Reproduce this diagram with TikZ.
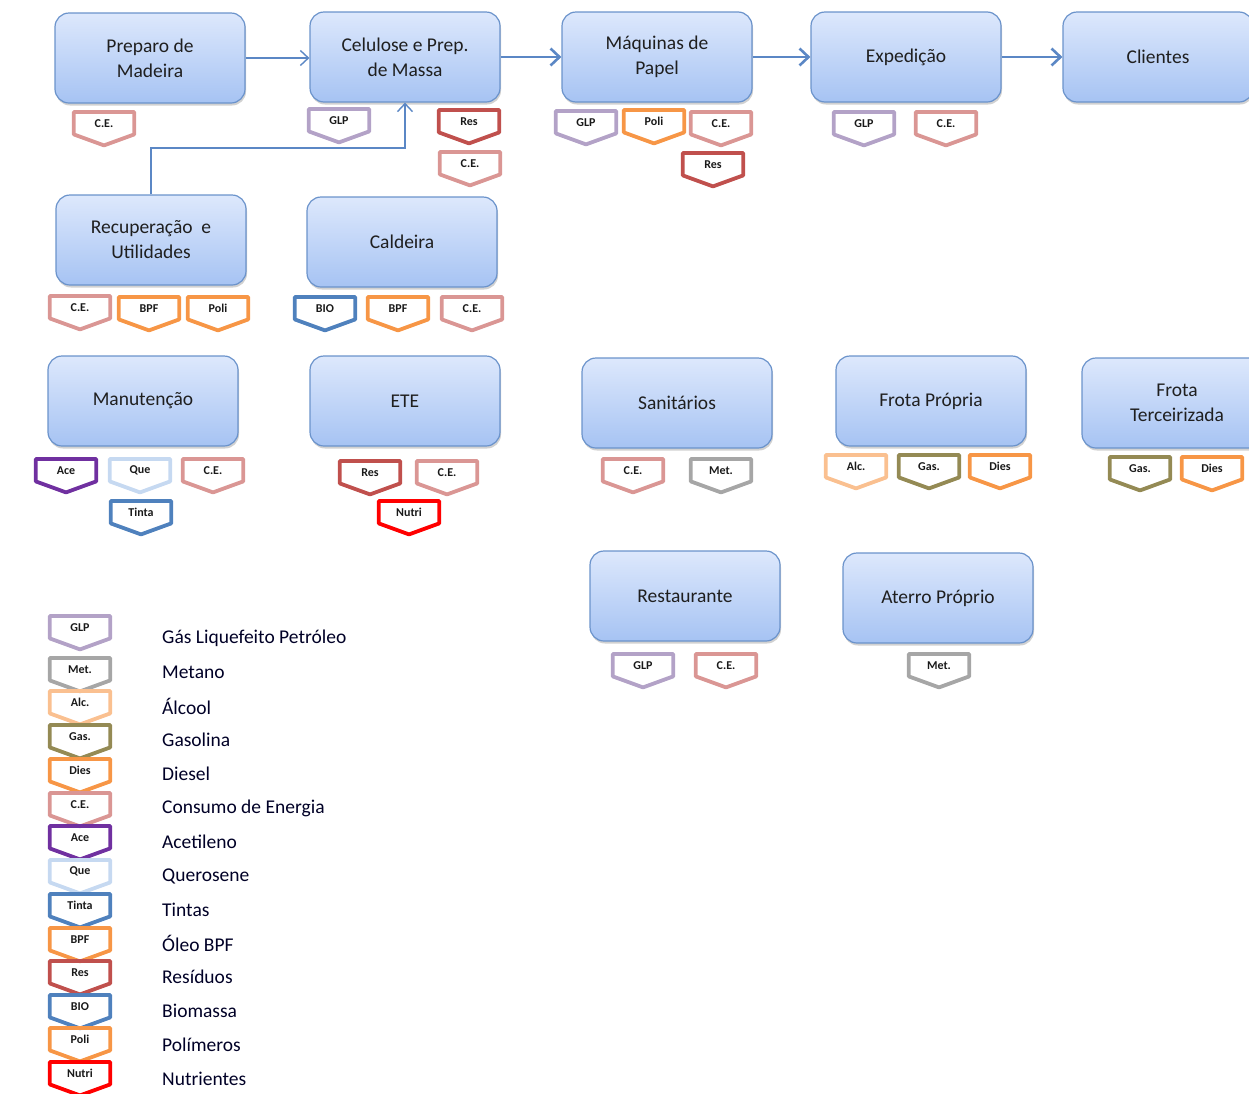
\documentclass[tikz,border=0pt]{standalone}
\usepackage{fontspec}
\setmainfont{Carlito}
\usetikzlibrary{arrows.meta,shadows}
\definecolor{cGLP}{HTML}{B3A2C7}
\definecolor{cCE}{HTML}{DA9694}
\definecolor{cRes}{HTML}{C0504D}
\definecolor{cOr}{HTML}{F79646}
\definecolor{cMet}{HTML}{A6A6A6}
\definecolor{cAlc}{HTML}{FAC090}
\definecolor{cGas}{HTML}{948A54}
\definecolor{cAce}{HTML}{7030A0}
\definecolor{cQue}{HTML}{C6D9F1}
\definecolor{cBlue}{HTML}{4F81BD}
\definecolor{cNut}{HTML}{FF0000}
\definecolor{boxtop}{HTML}{DDE8FC}
\definecolor{boxbot}{HTML}{A6C3F3}
\definecolor{boxline}{HTML}{6B93CB}
\definecolor{arrowc}{HTML}{5B87C5}
\begin{document}
\begin{tikzpicture}[x=1pt,y=-1pt,
  box/.style={rectangle, rounded corners=14pt, minimum width=190pt, minimum height=90pt,
    top color=boxtop, bottom color=boxbot, draw=boxline, line width=1.2pt, align=center,
    font=\fontsize{19.5}{25}\selectfont, text=black!88,
    drop shadow={shadow xshift=1pt, shadow yshift=-2.5pt, opacity=0.3, fill=black!60}},
  tagbox/.style={rectangle, minimum width=60pt, minimum height=22pt, inner sep=0pt,
    anchor=north, yshift=-2pt, font=\bfseries\fontsize{12}{13}\selectfont, text=black!90,
    append after command={\pgfextra{\draw[draw=#1, line width=3.8pt, line join=round]
      (\tikzlastnode.north west) -- (\tikzlastnode.north east) -- (\tikzlastnode.south east)
      -- ([yshift=-11pt]\tikzlastnode.south) -- (\tikzlastnode.south west) -- cycle;}}},
  legtext/.style={anchor=west, inner sep=0pt, font=\fontsize{19.5}{22}\selectfont, text=black!85!blue},
  thinarr/.style={draw=arrowc, line width=1.4pt, -{Straight Barb[length=8pt,width=15pt,line width=1.4pt]}},
  thickarr/.style={draw=arrowc, line width=2.6pt, -{Straight Barb[length=9pt,width=17pt,line width=2.6pt]}}
]
\useasboundingbox (0,0) rectangle (1249,1093);
\clip (0,0) rectangle (1249,1093);
% boxes
\node[box] (prep) at (150,58) {Preparo de\\Madeira};
\node[box] (cel) at (405,57) {Celulose e Prep.\\de Massa};
\node[box] (maq) at (657,57) {Máquinas de\\Papel};
\node[box] (exp) at (906,57) {Expedição};
\node[box] (cli) at (1158,57) {Clientes};
\node[box] (rec) at (151,240) {Recuperação \ e\\Utilidades};
\node[box] (cal) at (402,242) {Caldeira};
\node[box] (man) at (143,401) {Manutenção};
\node[box] (ete) at (405,401) {ETE};
\node[box] (san) at (677,403) {Sanitários};
\node[box] (fp) at (931,401) {Frota Própria};
\node[box] (ft) at (1177,403) {Frota\\Terceirizada};
\node[box] (rest) at (685,596) {Restaurante};
\node[box] (ate) at (938,598) {Aterro Próprio};
% connectors
\draw[thinarr] (prep.east) -- (prep.east -| cel.west);
\draw[thickarr] (cel.east) -- (maq.west);
\draw[thickarr] (maq.east) -- (exp.west);
\draw[thickarr] (exp.east) -- (cli.west);
\coordinate (j) at (151,148);
\draw[thinarr] (rec.north) -- (j) -| (cel.south);
% tags
\node[tagbox=cCE] (t1) at (104,110) {C.E.};
\node[tagbox=cGLP] (t2) at (339,107) {GLP};
\node[tagbox=cRes] (t3) at (469,108) {Res};
\node[tagbox=cCE] (t4) at (470,150) {C.E.};
\node[tagbox=cGLP] (t5) at (586,109) {GLP};
\node[tagbox=cOr] (t6) at (654,108) {Poli};
\node[tagbox=cCE] (t7) at (721,110) {C.E.};
\node[tagbox=cRes] (t8) at (713,151) {Res};
\node[tagbox=cGLP] (t9) at (864,110) {GLP};
\node[tagbox=cCE] (t10) at (946,110) {C.E.};
\node[tagbox=cCE] (t11) at (80,294) {C.E.};
\node[tagbox=cOr] (t12) at (149,295) {BPF};
\node[tagbox=cOr] (t13) at (218,295) {Poli};
\node[tagbox=cBlue] (t14) at (325,295) {BIO};
\node[tagbox=cOr] (t15) at (398,295) {BPF};
\node[tagbox=cCE] (t16) at (472,295) {C.E.};
\node[tagbox=cAce] (t17) at (66,457) {Ace};
\node[tagbox=cQue] (t18) at (140,457) {Que};
\node[tagbox=cCE] (t19) at (213,457) {C.E.};
\node[tagbox=cBlue] (t20) at (141,499) {Tinta};
\node[tagbox=cRes] (t21) at (370,459) {Res};
\node[tagbox=cCE] (t22) at (447,459) {C.E.};
\node[tagbox=cNut] (t23) at (409,499) {Nutri};
\node[tagbox=cCE] (t24) at (633,457) {C.E.};
\node[tagbox=cMet] (t25) at (721,457) {Met.};
\node[tagbox=cAlc] (t26) at (856,453) {Alc.};
\node[tagbox=cGas] (t27) at (929,453) {Gas.};
\node[tagbox=cOr] (t28) at (1000,453) {Dies};
\node[tagbox=cGas] (t29) at (1140,455) {Gas.};
\node[tagbox=cOr] (t30) at (1212,455) {Dies};
\node[tagbox=cGLP] (t31) at (643,652) {GLP};
\node[tagbox=cCE] (t32) at (726,652) {C.E.};
\node[tagbox=cMet] (t33) at (939,652) {Met.};
% legend
\node[tagbox=cGLP] (l1) at (80,614) {GLP};
\node[tagbox=cMet] (l2) at (80,656) {Met.};
\node[tagbox=cAlc] (l3) at (80,689) {Alc.};
\node[tagbox=cGas] (l4) at (80,723) {Gas.};
\node[tagbox=cOr] (l5) at (80,757) {Dies};
\node[tagbox=cCE] (l6) at (80,791) {C.E.};
\node[tagbox=cAce] (l7) at (80,824) {Ace};
\node[tagbox=cQue] (l8) at (80,858) {Que};
\node[tagbox=cBlue] (l9) at (80,892) {Tinta};
\node[tagbox=cOr] (l10) at (80,926) {BPF};
\node[tagbox=cRes] (l11) at (80,959) {Res};
\node[tagbox=cBlue] (l12) at (80,993) {BIO};
\node[tagbox=cOr] (l13) at (80,1026) {Poli};
\node[tagbox=cNut] (l14) at (80,1060) {Nutri};
\node[legtext] (d1) at (162,638) {Gás Liquefeito Petróleo};
\node[legtext] (d2) at (162,672) {Metano};
\node[legtext] (d3) at (162,706) {Álcool};
\node[legtext] (d4) at (162,740) {Gasolina};
\node[legtext] (d5) at (162,774) {Diesel};
\node[legtext] (d6) at (162,808) {Consumo de Energia};
\node[legtext] (d7) at (162,842) {Acetileno};
\node[legtext] (d8) at (162,876) {Querosene};
\node[legtext] (d9) at (162,910) {Tintas};
\node[legtext] (d10) at (162,943) {Óleo BPF};
\node[legtext] (d11) at (162,977) {Resíduos};
\node[legtext] (d12) at (162,1011) {Biomassa};
\node[legtext] (d13) at (162,1045) {Polímeros};
\node[legtext] (d14) at (162,1079) {Nutrientes};
\end{tikzpicture}
\end{document}
